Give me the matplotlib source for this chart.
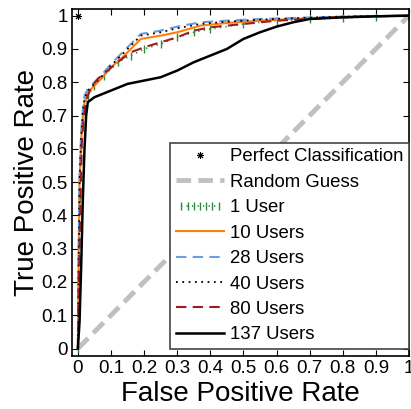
import matplotlib
matplotlib.use("Agg")
import matplotlib.pyplot as plt
from matplotlib.legend_handler import HandlerLine2D

plt.rcParams["font.family"] = ["Liberation Sans", "DejaVu Sans"]

# ROC 曲线数据
fpr_1 = [0, 0.002, 0.005, 0.01, 0.015, 0.02, 0.03, 0.05, 0.08, 0.12, 0.16, 0.2, 0.25, 0.3, 0.35, 0.4, 0.5, 0.6, 0.7, 0.8, 0.9, 1.0]
tpr_1 = [0, 0.2, 0.45, 0.6, 0.68, 0.72, 0.76, 0.79, 0.82, 0.86, 0.88, 0.90, 0.915, 0.935, 0.95, 0.96, 0.975, 0.985, 0.99, 0.993, 0.997, 1.0]

fpr_10 = [0, 0.002, 0.005, 0.01, 0.015, 0.02, 0.03, 0.05, 0.07, 0.1, 0.13, 0.16, 0.19, 0.25, 0.3, 0.37, 0.45, 0.55, 0.65, 0.75, 0.9, 1.0]
tpr_10 = [0, 0.25, 0.5, 0.63, 0.70, 0.74, 0.77, 0.79, 0.81, 0.845, 0.87, 0.90, 0.93, 0.94, 0.95, 0.97, 0.978, 0.985, 0.99, 0.995, 0.998, 1.0]

fpr_28 = [0, 0.002, 0.005, 0.01, 0.015, 0.02, 0.03, 0.05, 0.07, 0.1, 0.13, 0.16, 0.19, 0.25, 0.3, 0.37, 0.45, 0.55, 0.65, 0.75, 0.9, 1.0]
tpr_28 = [0, 0.27, 0.52, 0.65, 0.72, 0.76, 0.78, 0.80, 0.82, 0.855, 0.885, 0.915, 0.945, 0.955, 0.967, 0.98, 0.985, 0.99, 0.993, 0.996, 0.999, 1.0]

fpr_40 = [0, 0.002, 0.005, 0.01, 0.015, 0.02, 0.03, 0.05, 0.07, 0.1, 0.13, 0.16, 0.19, 0.25, 0.3, 0.37, 0.45, 0.55, 0.65, 0.75, 0.9, 1.0]
tpr_40 = [0, 0.24, 0.5, 0.64, 0.71, 0.75, 0.775, 0.795, 0.815, 0.85, 0.88, 0.91, 0.94, 0.95, 0.962, 0.975, 0.982, 0.988, 0.992, 0.996, 0.999, 1.0]

fpr_80 = [0, 0.003, 0.008, 0.012, 0.018, 0.025, 0.04, 0.06, 0.09, 0.12, 0.16, 0.2, 0.25, 0.3, 0.35, 0.4, 0.5, 0.6, 0.7, 0.8, 0.9, 1.0]
tpr_80 = [0, 0.2, 0.45, 0.62, 0.70, 0.745, 0.785, 0.81, 0.835, 0.86, 0.89, 0.905, 0.92, 0.935, 0.955, 0.965, 0.975, 0.985, 0.99, 0.995, 0.998, 1.0]

fpr_137 = [0, 0.005, 0.01, 0.015, 0.02, 0.025, 0.03, 0.05, 0.1, 0.15, 0.2, 0.25, 0.3, 0.35, 0.4, 0.45, 0.5, 0.55, 0.6, 0.65, 0.7, 0.8, 0.9, 1.0]
tpr_137 = [0, 0.08, 0.25, 0.45, 0.6, 0.7, 0.74, 0.755, 0.775, 0.795, 0.805, 0.815, 0.835, 0.86, 0.88, 0.90, 0.93, 0.95, 0.967, 0.98, 0.99, 0.995, 0.998, 1.0]

random_x = [0, 1]
random_y = [0, 1]

xticks = [0, 0.1, 0.2, 0.3, 0.4, 0.5, 0.6, 0.7, 0.8, 0.9, 1]
tick_labels = ["0", "0.1", "0.2", "0.3", "0.4", "0.5", "0.6", "0.7", "0.8", "0.9", "1"]

fig = plt.figure(figsize=(4.11, 4.09), dpi=100)
ax = fig.add_axes([0.175, 0.13, 0.82, 0.848])

ax.plot([0], [1], linestyle="none", marker=(8, 2, 0), color="black", markersize=5,
        markeredgewidth=0.7, label="Perfect Classification")
ax.plot(random_x, random_y, color="#c0c0c0", linestyle=(0, (3, 1.5)), linewidth=3.5,
        label="Random Guess")
line_1, = ax.plot(fpr_1, tpr_1, color="#2e8b3e", linestyle=(0, (0.8, 2.5)), linewidth=1.2,
                  marker="|", markersize=6, markeredgewidth=1.0, label="1 User")
ax.plot(fpr_10, tpr_10, color="#ff7f0e", linewidth=1.5, label="10 Users")
ax.plot(fpr_28, tpr_28, color="#6a9ee0", linestyle=(0, (5, 3)), linewidth=1.5, label="28 Users")
ax.plot(fpr_40, tpr_40, color="black", linestyle=(0, (1, 2.5)), linewidth=1.3, label="40 Users")
ax.plot(fpr_80, tpr_80, color="#a01c1c", linestyle=(0, (5, 3)), linewidth=1.5, label="80 Users")
ax.plot(fpr_137, tpr_137, color="black", linewidth=1.8, label="137 Users")

ax.set_xlim(-0.018, 1.0)
ax.set_ylim(-0.022, 1.02)
ax.set_xticks(xticks)
ax.set_xticklabels(tick_labels)
ax.set_yticks(xticks)
ax.set_yticklabels(tick_labels)
ax.tick_params(direction="in", top=True, right=True, labelsize=13.5, length=4, pad=3)
for s in ax.spines.values():
    s.set_linewidth(1.2)

ax.set_xlabel("False Positive Rate", fontsize=20, labelpad=3)
ax.set_ylabel("True Positive Rate", fontsize=20, labelpad=1)

leg = ax.legend(loc="lower right", bbox_to_anchor=(1.0, 0.02), borderaxespad=0,
                fontsize=13.4, handlelength=2.6, handletextpad=0.3,
                labelspacing=0.45, fancybox=False, framealpha=1, borderpad=0.3,
                handler_map={line_1: HandlerLine2D(numpoints=7)})
leg.get_frame().set_edgecolor("#444444")
leg.get_frame().set_linewidth(1.2)

plt.savefig("out.png", dpi=100)
